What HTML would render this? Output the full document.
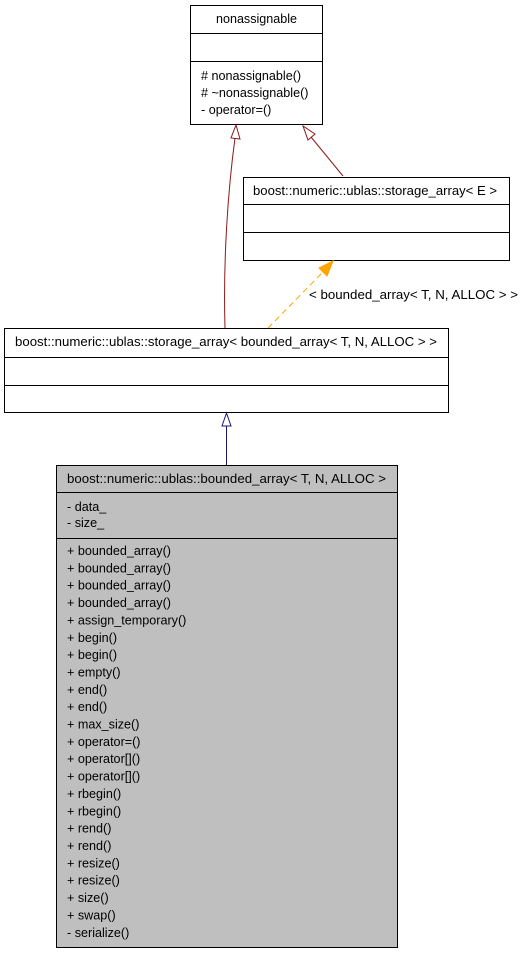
<!DOCTYPE html>
<html><head><meta charset="utf-8"><style>
html,body{margin:0;padding:0;background:#fff;}
svg text{font-family:"Liberation Sans",sans-serif;font-size:12.6px;fill:#000;}
</style></head><body>
<svg width="525" height="955" viewBox="0 0 525 955" xmlns="http://www.w3.org/2000/svg">
<!-- nonassignable -->
<rect x="190.5" y="5.5" width="132" height="119" fill="#fff" stroke="#000"/>
<line x1="190" y1="33.5" x2="322" y2="33.5" stroke="#000"/>
<line x1="190" y1="61.5" x2="322" y2="61.5" stroke="#000"/>
<text x="216" y="23" textLength="81" lengthAdjust="spacingAndGlyphs">nonassignable</text>
<text x="201" y="80">#  nonassignable()</text>
<text x="201" y="97">#  ~nonassignable()</text>
<text x="201" y="114">- operator=()</text>

<!-- storage_array<E> -->
<rect x="243.5" y="177.5" width="266" height="83" fill="#fff" stroke="#000"/>
<line x1="243" y1="204.5" x2="509" y2="204.5" stroke="#000"/>
<line x1="243" y1="232.5" x2="509" y2="232.5" stroke="#000"/>
<text x="253" y="195" textLength="244" lengthAdjust="spacingAndGlyphs">boost::numeric::ublas::storage_array&lt; E &gt;</text>

<!-- storage_array<bounded_array> -->
<rect x="4.5" y="328.5" width="444" height="84" fill="#fff" stroke="#000"/>
<line x1="4" y1="357.5" x2="448" y2="357.5" stroke="#000"/>
<line x1="4" y1="385.5" x2="448" y2="385.5" stroke="#000"/>
<text x="15" y="346" textLength="422" lengthAdjust="spacingAndGlyphs">boost::numeric::ublas::storage_array&lt; bounded_array&lt; T, N, ALLOC &gt; &gt;</text>

<!-- bounded_array -->
<rect x="56.5" y="465.5" width="341" height="482" fill="#bfbfbf" stroke="#000"/>
<line x1="56" y1="492.5" x2="397" y2="492.5" stroke="#000"/>
<line x1="56" y1="538.5" x2="397" y2="538.5" stroke="#000"/>
<text x="67" y="483" textLength="319" lengthAdjust="spacingAndGlyphs">boost::numeric::ublas::bounded_array&lt; T, N, ALLOC &gt;</text>
<text x="67" y="511">- data_</text>
<text x="67" y="527">- size_</text>
<g>
<text x="67" y="555">+ bounded_array()</text>
<text x="67" y="572.4">+ bounded_array()</text>
<text x="67" y="589.7">+ bounded_array()</text>
<text x="67" y="607">+ bounded_array()</text>
<text x="67" y="624.4">+ assign_temporary()</text>
<text x="67" y="641.8">+ begin()</text>
<text x="67" y="659.1">+ begin()</text>
<text x="67" y="676.5">+ empty()</text>
<text x="67" y="693.8">+ end()</text>
<text x="67" y="711.2">+ end()</text>
<text x="67" y="728.5">+ max_size()</text>
<text x="67" y="745.9">+ operator=()</text>
<text x="67" y="763.2">+ operator[]()</text>
<text x="67" y="780.6">+ operator[]()</text>
<text x="67" y="798">+ rbegin()</text>
<text x="67" y="815.3">+ rbegin()</text>
<text x="67" y="832.7">+ rend()</text>
<text x="67" y="850">+ rend()</text>
<text x="67" y="867.4">+ resize()</text>
<text x="67" y="884.7">+ resize()</text>
<text x="67" y="902.1">+ size()</text>
<text x="67" y="919.4">+ swap()</text>
<text x="67" y="936.8">- serialize()</text>
</g>

<!-- edges -->
<path d="M225,328 C223,260 228,190 235,138" fill="none" stroke="#8b1a1a"/>
<polygon points="236,125 231,138 240,139" fill="#fff" stroke="#8b1a1a"/>
<path d="M343,176 L311,137" fill="none" stroke="#8b1a1a"/>
<polygon points="303,126 308,140 315,134" fill="#fff" stroke="#8b1a1a"/>
<path d="M268,328 L323,272" fill="none" stroke="#ffa500" stroke-dasharray="6,4"/>
<polygon points="333,261 319,268 327,276" fill="#ffa500" stroke="#ffa500"/>
<text x="309" y="299" textLength="209" lengthAdjust="spacingAndGlyphs">&lt; bounded_array&lt; T, N, ALLOC &gt; &gt;</text>
<line x1="226.5" y1="465" x2="226.5" y2="426" stroke="#191970"/>
<polygon points="226.5,413 222,426 231,426" fill="#fff" stroke="#191970"/>
</svg>
</body></html>
